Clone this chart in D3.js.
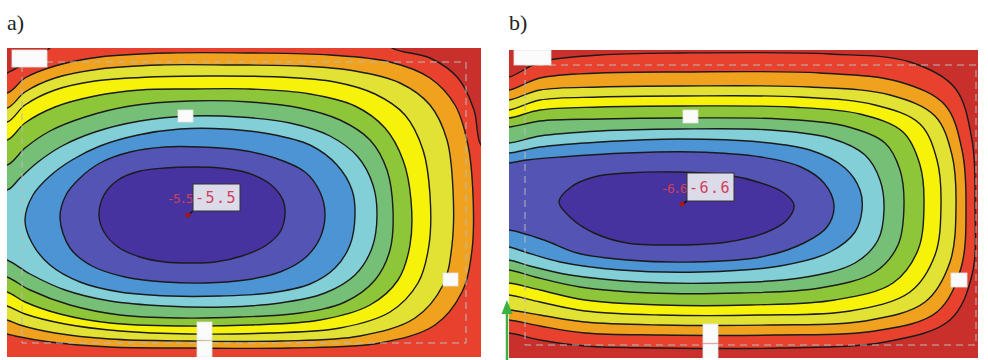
<!DOCTYPE html>
<html>
<head>
<meta charset="utf-8">
<script src="https://cdn.jsdelivr.net/npm/d3@7"></script>
<style>
  body { margin: 0; background: #fff; }
  svg { display: block; }
</style>
</head>
<body>
<svg id="chart" width="988" height="360"></svg>
<script>

// band colours, outermost band first
var bandColors = ["#c9302c", "#e8422f", "#f0a21e", "#e2e235", "#f6f20a", "#8ec63a",
                  "#76bf76", "#82cfd8", "#4c94d4", "#5454b4", "#47339f"];

// ---- panel a) : isolines, outermost first (levels -0.5 ... -5.0), units = plate cm
var levelsA = [-0.5, -1.0, -1.5, -2.0, -2.5, -3.0, -3.5, -4.0, -4.5, -5.0];
var a05 = [[0,2.5],[2.0,1.4],[4.3,0],[5.3,-1.0],[37.8,-1.0],[38.5,0],[42.3,1.0],[45.1,3.0],[46.7,6.2],[47.4,9.7],[48.5,10.2],[48.5,32.2],[-1.7,32.2],[-1.7,3.0]];
var a10 = [[-2.2,4.0],[0,4.5],[1.8,3.0],[4.8,1.8],[9.3,0.9],[16.3,0.5],[24.3,0.5],[32.3,0.7],[38.3,1.4],[42.3,3.0],[44.8,5.7],[46.1,9.7],[46.6,14.7],[46.5,20.2],[45.5,24.4],[42.8,27.7],[37.3,29.5],[28.3,30.0],[18.3,30.0],[10.3,29.9],[4.3,29.4],[0.8,28.8],[0,28.6],[-2.2,28.2]];
var a15 = [[-2.2,5.6],[0,6.0],[1.8,4.4],[4.8,3.0],[9.3,2.1],[15.3,1.7],[22.3,1.7],[29.3,1.8],[34.8,2.3],[39.3,3.5],[42.3,5.7],[44.0,9.2],[44.6,14.2],[44.5,19.7],[43.6,23.7],[40.8,27.0],[35.3,28.8],[27.3,29.3],[18.3,29.3],[10.3,29.1],[4.8,28.5],[1.3,27.7],[0,27.2],[-2.2,26.8]];
var a20 = [[-2.2,7.0],[0,7.4],[1.8,5.7],[4.8,4.2],[8.8,3.3],[14.3,2.9],[20.3,2.8],[27.3,2.9],[32.8,3.4],[36.8,4.6],[39.8,6.7],[41.6,10.2],[42.3,14.7],[42.2,19.7],[41.1,23.5],[38.3,26.4],[33.3,28.0],[26.3,28.5],[18.3,28.6],[11.3,28.3],[5.8,27.6],[1.8,26.6],[0,25.8],[-2.2,25.4]];
var a25 = [[-2.2,8.7],[0,9.2],[1.8,7.5],[4.8,5.9],[8.8,4.8],[13.3,4.2],[18.3,4.1],[24.3,4.1],[30.3,4.6],[34.8,5.8],[37.8,8.0],[39.6,11.2],[40.4,15.2],[40.3,19.7],[39.1,23.2],[36.3,25.7],[31.3,27.2],[24.3,27.7],[17.3,27.8],[10.3,27.5],[5.3,26.6],[1.8,25.4],[0,24.4],[-2.2,24.0]];
var a30 = [[-2.2,11.2],[0,11.7],[1.8,10.0],[4.3,8.3],[7.8,6.9],[12.3,5.8],[18.3,5.3],[24.3,5.4],[29.3,6.0],[33.3,7.2],[36.3,9.2],[38.0,12.2],[38.6,16.2],[38.3,20.2],[36.8,23.2],[33.8,25.4],[29.3,26.5],[23.3,26.9],[17.3,27.0],[11.3,26.7],[6.3,25.7],[2.3,24.2],[0,22.9],[-2.2,22.4]];
var a35 = [[-2.2,13.2],[0,14.2],[1.3,13.0],[3.1,11.4],[5.5,9.8],[8.8,8.4],[13.3,7.3],[18.3,6.8],[23.3,6.9],[28.3,7.5],[32.3,8.8],[35.1,10.9],[36.6,13.7],[37.0,16.7],[36.5,20.0],[34.8,22.7],[31.8,24.5],[27.3,25.5],[21.8,25.9],[15.8,25.8],[10.3,25.3],[5.8,24.2],[2.3,22.6],[0,21.2],[-2.2,20.7]];
var a40 = [[1.8,17.2],[2.6,14.7],[4.3,12.8],[6.5,11.2],[9.3,9.8],[13.1,8.7],[17.3,8.1],[21.8,8.1],[26.3,8.6],[30.3,9.7],[33.0,11.7],[34.5,14.2],[34.8,16.7],[34.3,19.7],[32.8,22.0],[30.3,23.6],[26.3,24.5],[21.3,24.8],[16.3,24.8],[11.3,24.4],[7.3,23.4],[4.3,21.7],[2.5,19.5]];
var a45 = [[5.3,17.0],[5.9,14.7],[7.3,13.0],[9.3,11.5],[12.3,10.4],[15.8,9.9],[19.3,9.9],[23.3,10.2],[26.8,11.0],[29.8,12.4],[31.3,14.4],[31.8,16.6],[31.3,19.0],[29.8,21.0],[27.3,22.4],[23.8,23.2],[19.8,23.5],[15.8,23.4],[11.8,22.9],[8.5,21.8],[6.3,20.0]];
var a50 = [[9.2,16.7],[9.7,14.7],[11.1,13.2],[13.3,12.3],[15.8,12.0],[18.5,11.9],[21.3,12.0],[24.1,12.5],[26.3,13.6],[27.6,15.2],[27.8,16.7],[27.3,18.4],[25.8,19.8],[23.5,20.8],[20.8,21.4],[18.5,21.5],[15.8,21.4],[13.3,20.9],[11.1,19.9],[9.7,18.4]];
var isolinesA = [a05, a10, a15, a20, a25, a30, a35, a40, a45, a50];

// ---- panel b) : levels -0.6 ... -6.0
var levelsB = [-0.6, -1.2, -1.8, -2.4, -3.0, -3.6, -4.2, -4.8, -5.4, -6.0];
var b06 = [[-1.4,2.6],[0,2.7],[3.1,1.2],[9.1,0.5],[17.1,0.3],[32.1,0.4],[40.1,1.2],[44.6,3.8],[46.3,9.0],[46.6,15.5],[46.3,22.5],[44.1,27.0],[37.6,29.2],[27.1,29.8],[15.1,29.8],[7.6,29.6],[3.1,29.0],[0,28.3],[-1.4,28.3]];
var b12 = [[-1.4,3.9],[0,4.0],[3.1,2.8],[9.1,2.3],[17.1,2.2],[31.1,2.3],[39.1,3.2],[43.6,5.5],[45.3,10.0],[45.7,15.5],[45.2,21.8],[42.8,26.2],[36.6,28.1],[26.6,28.5],[15.1,28.5],[7.6,28.3],[3.1,27.6],[0,27.0],[-1.4,27.0]];
var b18 = [[-1.4,4.9],[0,5.0],[3.1,4.0],[9.1,3.7],[17.1,3.6],[30.1,3.7],[38.1,4.5],[42.6,6.6],[44.3,10.5],[44.7,15.5],[44.1,21.2],[41.6,25.2],[35.6,27.1],[26.1,27.5],[15.1,27.5],[7.6,27.2],[3.1,26.5],[0,26.0],[-1.4,26.0]];
var b24 = [[-1.4,5.9],[0,6.0],[3.1,5.0],[9.1,4.7],[17.1,4.6],[29.1,4.7],[36.6,5.5],[41.1,7.4],[42.8,11.0],[43.2,15.5],[42.6,20.5],[40.1,24.2],[34.1,26.1],[25.1,26.5],[15.1,26.5],[7.6,26.1],[3.1,25.2],[0,24.5],[-1.4,24.5]];
var b30 = [[-1.4,6.7],[0,6.8],[3.1,6.0],[9.1,5.7],[17.1,5.6],[28.1,5.7],[35.1,6.4],[39.4,8.2],[41.1,11.5],[41.5,15.5],[40.9,20.0],[38.4,23.3],[32.6,25.0],[24.1,25.5],[15.1,25.5],[7.6,25.0],[3.1,24.0],[0,23.3],[-1.4,23.3]];
var b36 = [[-1.4,7.6],[0,7.7],[3.1,7.1],[9.1,6.9],[17.1,6.8],[27.1,6.9],[33.6,7.6],[37.6,9.3],[39.1,12.0],[39.5,15.5],[38.9,19.5],[36.6,22.2],[31.1,23.8],[23.1,24.3],[14.1,24.3],[7.1,23.7],[2.6,22.7],[0,22.0],[-1.4,22.0]];
var b42 = [[-1.4,9.2],[0,9.3],[3.1,8.6],[9.1,8.1],[17.1,7.9],[26.1,8.0],[32.1,8.8],[35.6,10.5],[37.1,13.0],[37.5,16.0],[36.9,19.0],[34.6,21.3],[29.1,22.8],[21.1,23.3],[13.1,23.2],[6.1,22.5],[2.1,21.6],[0,21.0],[-1.4,21.0]];
var b48 = [[-1.4,10.2],[0,10.3],[3.1,9.7],[9.1,9.2],[17.1,8.9],[25.1,9.2],[30.1,10.0],[33.6,11.8],[35.1,14.0],[35.3,16.0],[34.6,18.2],[32.1,20.2],[27.1,21.6],[19.1,22.2],[11.1,22.0],[5.1,21.2],[1.6,20.2],[0,19.7],[-1.4,19.7]];
var b54 = [[-1.4,11.3],[0,11.3],[1.8,11.0],[5.2,10.7],[11.8,10.3],[18.5,10.2],[25.2,10.7],[29.2,11.7],[31.5,13.3],[32.5,15.5],[31.8,17.7],[29.5,19.3],[25.2,20.7],[18.5,21.2],[11.8,21.0],[6.8,20.3],[3.5,19.0],[0,18.0],[-1.4,18.0]];
var b60 = [[5.0,15.2],[6.2,13.7],[8.5,12.7],[11.8,12.3],[16.8,12.2],[21.8,12.5],[25.2,13.3],[27.5,14.3],[28.5,15.5],[27.8,17.0],[25.8,18.2],[21.8,19.2],[16.8,19.5],[11.8,19.3],[8.5,18.3],[6.2,16.8]];
var isolinesB = [b06, b12, b18, b24, b30, b36, b42, b48, b54, b60];

// sensor marks: [x, y, w, h], same units
var marksA = [[0.5,0.2,3.5,1.7],[17.1,6.2,1.5,1.2],[43.6,22.5,1.5,1.3],[19.0,27.4,1.5,1.8],[19.0,29.3,1.5,1.6]];
var marksB = [[0.5,0.0,3.7,1.5],[17.4,6.0,1.5,1.3],[44.2,22.3,1.6,1.4],[19.4,27.4,1.5,1.9],[19.4,29.4,1.5,1.6]];

var panels = [
  {id: "a", tag: "a)", x0: 7,   y0: 48, w: 47.4, h: 30.9, lines: isolinesA, marks: marksA,
   frame: [1.5, 1.4, 45.9, 29.5], minPt: [18.1, 16.7], minVal: "-5.5", box: [18.6, 13.6, 4.7, 2.7]},
  {id: "b", tag: "b)", x0: 509, y0: 50, w: 46.9, h: 30.8, lines: isolinesB, marks: marksB,
   frame: [1.6, 1.5, 46.7, 29.5], minPt: [17.3, 15.4], minVal: "-6.6", box: [17.8, 12.3, 4.7, 2.8]}
];

var svg = d3.select("#chart");

panels.forEach(function(p){

  var x = d3.scaleLinear().domain([0, p.w]).range([p.x0, p.x0 + p.w * 10]);
  var y = d3.scaleLinear().domain([0, p.h]).range([p.y0, p.y0 + p.h * 10]);

  svg.append("text")
      .attr("x", x(0))
      .attr("y", 30)
      .attr("font-family", "'Liberation Serif', 'DejaVu Serif', serif")
      .attr("font-size", 22)
      .attr("fill", "#222")
      .text(p.tag);

  svg.append("clipPath").attr("id", "clip-" + p.id)
    .append("rect")
      .attr("x", x(0)).attr("y", y(0))
      .attr("width", x(p.w) - x(0)).attr("height", y(p.h) - y(0));

  var body = svg.append("g").attr("clip-path", "url(#clip-" + p.id + ")");

  // outermost band fills the plate
  body.append("rect")
      .attr("x", x(0)).attr("y", y(0))
      .attr("width", x(p.w) - x(0)).attr("height", y(p.h) - y(0))
      .attr("fill", bandColors[0]);

  var iso = d3.line()
      .x(function(d){ return x(d[0]); })
      .y(function(d){ return y(d[1]); })
      .curve(d3.curveCatmullRomClosed.alpha(0.5));

  // 塗り
  body.selectAll("path.band")
      .data(p.lines)
      .enter()
      .append("path")
      .attr("class", "band")
      .attr("d", iso)
      .attr("fill", function(d, i){ return bandColors[i + 1]; });

  // 等値線
  body.selectAll("path.iso")
      .data(p.lines)
      .enter()
      .append("path")
      .attr("class", "iso")
      .attr("d", iso)
      .attr("fill", "none")
      .attr("stroke", "#1b1b1b")
      .attr("stroke-width", 1.4);

  // dashed inner frame
  body.append("rect")
      .attr("x", x(p.frame[0])).attr("y", y(p.frame[1]))
      .attr("width", x(p.frame[2]) - x(p.frame[0]))
      .attr("height", y(p.frame[3]) - y(p.frame[1]))
      .attr("fill", "none")
      .attr("stroke", "#b8b8b8")
      .attr("stroke-width", 1)
      .attr("stroke-dasharray", "7,5");

  body.selectAll("rect.mark")
      .data(p.marks)
      .enter()
      .append("rect")
      .attr("class", "mark")
      .attr("x", function(d){ return x(d[0]); })
      .attr("y", function(d){ return y(d[1]); })
      .attr("width", function(d){ return x(d[0] + d[2]) - x(d[0]); })
      .attr("height", function(d){ return y(d[1] + d[3]) - y(d[1]); })
      .attr("fill", "#fbfbfb")
      .attr("stroke", "#e4e4e4")
      .attr("stroke-width", 0.8);

  // minimum label
  var bx = p.box;
  body.append("text")
      .attr("x", x(bx[0]) - 1)
      .attr("y", y(bx[1] + bx[3] * 0.72))
      .attr("text-anchor", "end")
      .attr("font-family", "'DejaVu Sans Mono', monospace")
      .attr("font-size", 13)
      .attr("letter-spacing", -1.5)
      .attr("fill", "#d0405a")
      .text(p.minVal);

  body.append("line")
      .attr("x1", x(p.minPt[0])).attr("y1", y(p.minPt[1]))
      .attr("x2", x(bx[0])).attr("y2", y(bx[1] + bx[3]))
      .attr("stroke", "#111")
      .attr("stroke-width", 1.5);

  body.append("rect")
      .attr("x", x(bx[0])).attr("y", y(bx[1]))
      .attr("width", x(bx[0] + bx[2]) - x(bx[0]))
      .attr("height", y(bx[1] + bx[3]) - y(bx[1]))
      .attr("fill", "#dcdbea")
      .attr("stroke", "#333")
      .attr("stroke-width", 1);

  body.append("text")
      .attr("x", x(bx[0]) + 2)
      .attr("y", y(bx[1] + bx[3] * 0.72))
      .attr("font-family", "'DejaVu Sans Mono', monospace")
      .attr("font-size", 15)
      .attr("letter-spacing", 1.5)
      .attr("fill", "#d0405a")
      .text(p.minVal);

  body.append("circle")
      .attr("cx", x(p.minPt[0])).attr("cy", y(p.minPt[1]))
      .attr("r", 2.5)
      .attr("fill", "#a01818");
});

// green support arrow on b)
var gb = panels[1];
var gx = d3.scaleLinear().domain([0, gb.w]).range([gb.x0, gb.x0 + gb.w * 10]);
var gy = d3.scaleLinear().domain([0, gb.h]).range([gb.y0, gb.y0 + gb.h * 10]);
svg.append("line")
    .attr("x1", gx(-0.2)).attr("y1", gy(31))
    .attr("x2", gx(-0.2)).attr("y2", gy(26))
    .attr("stroke", "#3cb040").attr("stroke-width", 2.5);
svg.append("path")
    .attr("d", "M" + gx(-0.75) + "," + gy(26.4) + "L" + gx(-0.2) + "," + gy(25.0) + "L" + gx(0.35) + "," + gy(26.4) + "Z")
    .attr("fill", "#3cb040");

</script>
</body>
</html>
